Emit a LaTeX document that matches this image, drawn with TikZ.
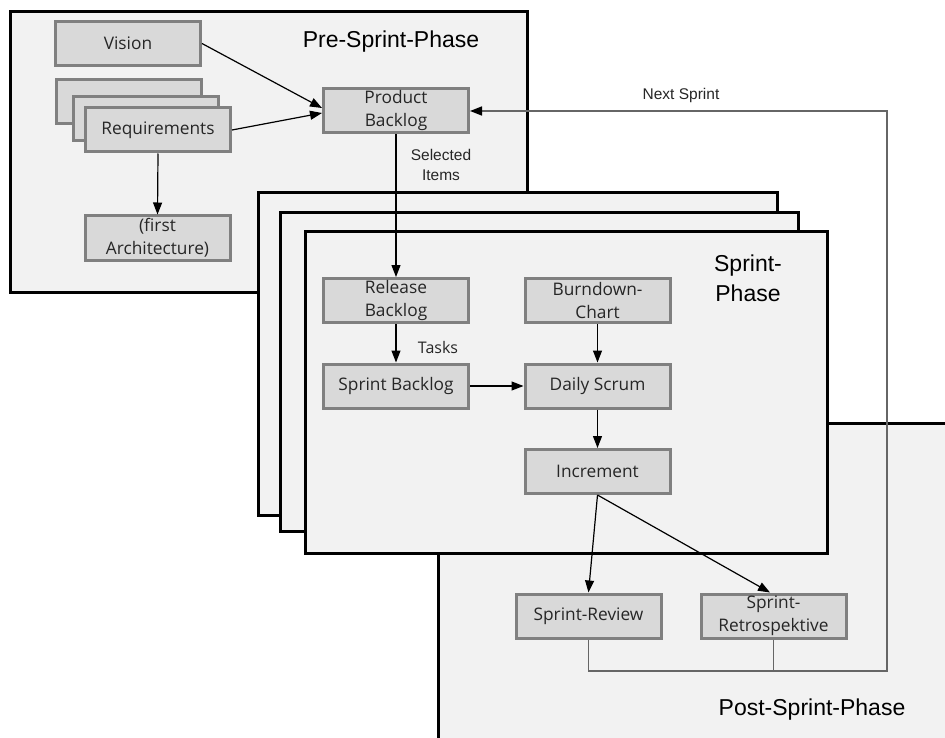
\documentclass[tikz,border=0pt]{standalone}
\usepackage{fontspec}
\setmainfont{Liberation Sans}
\newfontfamily\boxfont{Open Sans}
\usetikzlibrary{arrows.meta,calc}
\definecolor{framefill}{HTML}{F2F2F2}
\definecolor{boxfill}{HTML}{D9D9D9}
\definecolor{boxline}{HTML}{808080}
\definecolor{fbline}{HTML}{666666}
\tikzset{
  frame/.style={draw=black,line width=3pt,fill=framefill},
  box/.style={draw=boxline,line width=3pt,fill=boxfill,minimum width=145pt,minimum height=44pt,inner sep=0pt,align=center,font=\boxfont\fontsize{17.3}{23}\selectfont,text=black!85},
  conn/.style={draw=black,line width=1.2pt,-{Triangle[length=12pt,width=9pt]}},
  fb/.style={draw=fbline,line width=1.5pt},
  phase/.style={font=\fontsize{23}{30}\selectfont,align=center,inner sep=0pt},
  lbl/.style={font=\fontsize{15.5}{20}\selectfont,align=center,inner sep=0pt,text=black!85}
}
\begin{document}
\begin{tikzpicture}[x=1pt,y=-1pt]
\clip (0,0) rectangle (945,738);
\fill[white] (0,0) rectangle (945,738);
% frames
\draw[frame] (10,12) rectangle (527,292);
\draw[frame] (438,423) rectangle (960,760);
\draw[frame] (258,193) rectangle (777,515);
\draw[frame] (280,213) rectangle (798,531);
\draw[frame] (305,232) rectangle (827,553);
% titles
\node[phase] (tpre) at (391,42) {Pre-Sprint-Phase};
\node[phase] (tspr) at (748,278) {Sprint-\\Phase};
\node[phase] (tpost) at (812,710) {Post-Sprint-Phase};
% boxes
\node[box] (vision) at (128,43.5) {Vision};
\node[box] (req3) at (129,102) {};
\node[box] (req2) at (145.5,118.5) {};
\node[box] (req) at (158,130) {Requirements};
\node[box] (arch) at (157.5,238) {(first\\Architecture)};
\node[box] (pb) at (396,111) {Product\\Backlog};
\node[box] (rb) at (396,300.5) {Release\\Backlog};
\node[box] (bc) at (597.5,300.5) {Burndown-\\Chart};
\node[box] (sb) at (396,386) {Sprint Backlog};
\node[box] (ds) at (597.5,386) {Daily Scrum};
\node[box] (inc) at (597.5,471.5) {Increment};
\node[box] (sr) at (588.5,616) {Sprint-Review};
\node[box] (retro) at (773.5,616) {Sprint-\\Retrospektive};
% labels
\node[lbl] (lsel) at (441,165) {Selected\\Items};
\node[lbl,font=\boxfont\fontsize{16}{20}\selectfont] (ltask) at (438,347) {Tasks};
\node[lbl] (lnext) at (681,95) {Next Sprint};
% feedback
\coordinate (fbr) at (887,671);
\coordinate (fbt) at (887,111);
\draw[fb] (retro.south) -- (retro.south |- fbr);
\draw[fb,-{Triangle[length=12pt,width=9pt,color=black]}] (sr.south) |- (fbr) -- (fbt) -- (pb.east);
% connectors
\draw[conn] (vision.east) -- ($(pb.west)+(0,-3)$);
\draw[conn] (req.east) -- ($(pb.west)+(0,2)$);
\draw[conn] (req.south) -- (arch.north);
\draw[conn] (pb.south) -- (rb.north);
\draw[conn] (rb.south) -- (sb.north);
\draw[conn] (sb.east) -- (ds.west);
\draw[conn] (bc.south) -- (ds.north);
\draw[conn] (ds.south) -- (inc.north);
\draw[conn] (inc.south) -- (sr.north);
\draw[conn] (inc.south) -- (retro.north west -| 770,0);
\end{tikzpicture}
\end{document}
